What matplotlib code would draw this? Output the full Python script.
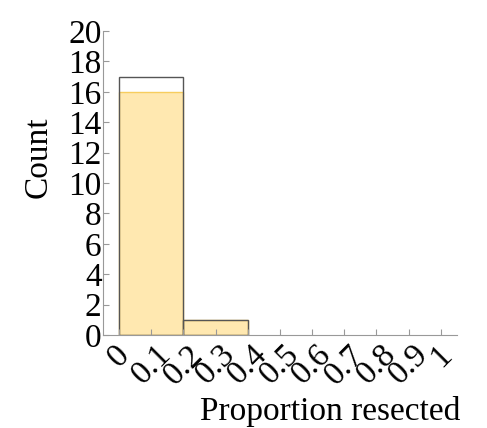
import matplotlib
matplotlib.use("Agg")
import matplotlib.pyplot as plt
import numpy as np

# histogram data (bins of width 0.2)
bin_left = [0.0, 0.2, 0.4, 0.6, 0.8]
count_all = [17, 1, 0, 0, 0]
count_fill = [16, 1, 0, 0, 0]
xticks = [0, 0.1, 0.2, 0.3, 0.4, 0.5, 0.6, 0.7, 0.8, 0.9, 1.0]
xtick_labels = ["0", "0.1", "0.2", "0.3", "0.4", "0.5", "0.6", "0.7", "0.8", "0.9", "1"]
yticks = [0, 2, 4, 6, 8, 10, 12, 14, 16, 18, 20]

plt.rcParams['font.family'] = ['Liberation Serif', 'DejaVu Serif']

fig = plt.figure(figsize=(4.87, 4.28), dpi=100)
ax = fig.add_axes([0.2115, 0.217, 0.7265, 0.7106])

# empty bins are not drawn
x_fill = [b for b, c in zip(bin_left, count_fill) if c > 0]
h_fill = [c for c in count_fill if c > 0]
x_all = [b for b, c in zip(bin_left, count_all) if c > 0]
h_all = [c for c in count_all if c > 0]

#filled bars first, then outlines on top
ax.bar(x_fill, h_fill, width=0.2, align='edge', color='#FFE8B0',
       edgecolor='#F7CD5E', linewidth=1.0)
ax.bar(x_all, h_all, width=0.2, align='edge', color='none',
       edgecolor='#555555', linewidth=1.0)

ax.set_xlim(-0.05, 1.05)
ax.set_ylim(0, 20)

for s in ['top', 'right']:
    ax.spines[s].set_visible(False)
for s in ['left', 'bottom']:
    ax.spines[s].set_color('#999999')
    ax.spines[s].set_linewidth(0.8)

ax.set_yticks(yticks)
ax.set_yticklabels([str(v) for v in yticks])
ax.set_xticks(xticks)
ax.set_xticklabels(xtick_labels, rotation=45, ha='center', va='top')

ax.tick_params(axis='both', direction='in', length=4, width=0.8, color='#999999',
               labelsize=24, pad=3)
ax.tick_params(axis='y', pad=1)

ax.set_ylabel('Count', fontsize=24)
ax.yaxis.set_label_coords(-0.14, 0.585)
ax.set_xlabel('Proportion resected', fontsize=24)
ax.xaxis.set_label_coords(1.01, -0.2, transform=ax.transAxes)
ax.xaxis.label.set_horizontalalignment('right')

fig.savefig('out.png', dpi=100)
